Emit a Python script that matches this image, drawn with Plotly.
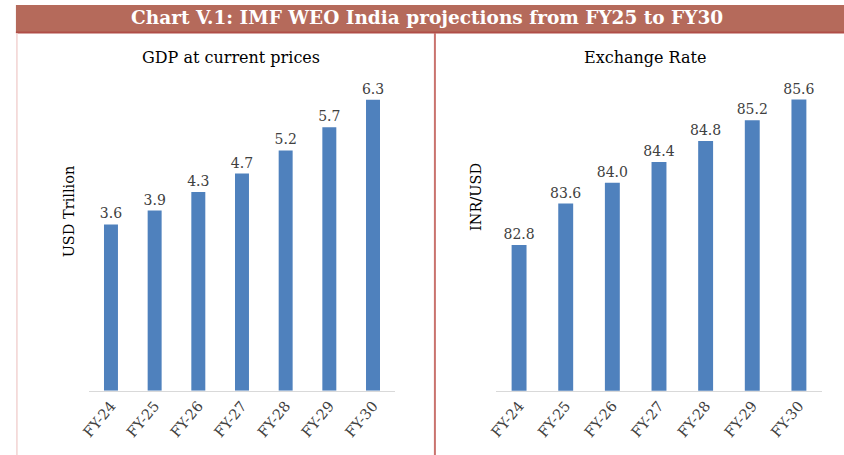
import plotly.graph_objects as go

categories = ["FY-24", "FY-25", "FY-26", "FY-27", "FY-28", "FY-29", "FY-30"]
gdp_usd_trillion = [3.6, 3.9, 4.3, 4.7, 5.2, 5.7, 6.3]
inr_per_usd = [82.8, 83.6, 84.0, 84.4, 84.8, 85.2, 85.6]

title_text = "Chart V.1: IMF WEO India projections from FY25 to FY30"
left_title = "GDP at current prices"
right_title = "Exchange Rate"
left_ytitle = "USD Trillion"
right_ytitle = "INR/USD"

W, H = 844, 455
BAR = "#4F81BD"
TXT = "#404040"
SERIF = "DejaVu Serif, Liberation Serif, serif"

fig = go.Figure()
for xa, ya, vals in (("x", "y", gdp_usd_trillion), ("x2", "y2", inr_per_usd)):
    fig.add_trace(go.Bar(
        x=categories, y=vals, xaxis=xa, yaxis=ya,
        marker=dict(color=BAR, line=dict(width=0)),
        text=[f"{v:.1f}" for v in vals], textposition="outside",
        constraintext="none",
        textfont=dict(family=SERIF, size=14, color=TXT), cliponaxis=False,
        hoverinfo="skip", showlegend=False,
    ))


def px_x(p):
    return p / W


def px_y(p):
    return 1 - p / H


y_bot = px_y(390.7)
y_top = px_y(80)
plot_h = 390.7 - 80

xcommon = dict(showgrid=False, showline=True, linecolor="#D9D9D9", linewidth=1,
               ticks="", tickangle=-50, zeroline=False,
               tickfont=dict(family=SERIF, size=14.5, color=TXT))
ycommon = dict(showgrid=False, showline=False, zeroline=False, showticklabels=False, ticks="")

fig.update_layout(
    width=W, height=H, margin=dict(l=0, r=0, t=0, b=0),
    paper_bgcolor="white", plot_bgcolor="white", bargap=0.68,
    font=dict(family=SERIF, color=TXT),
    xaxis=dict(domain=[px_x(81), px_x(390)], anchor="y", **xcommon),
    yaxis=dict(domain=[y_bot, y_top], anchor="x", range=[0, plot_h / 46.2], **ycommon),
    xaxis2=dict(domain=[px_x(492), px_x(822)], anchor="y2", **xcommon),
    yaxis2=dict(domain=[y_bot, y_top], anchor="x2", range=[80, 80 + plot_h / 52.0], **ycommon),
)

shapes = [
    dict(type="rect", xref="paper", yref="paper", x0=px_x(7), x1=1, y0=px_y(33), y1=px_y(5),
         fillcolor="#B56A5B", line=dict(width=0), layer="below"),
    dict(type="line", xref="paper", yref="paper", x0=px_x(7), x1=1, y0=px_y(32.5), y1=px_y(32.5),
         line=dict(color="#B04E48", width=2)),
    dict(type="line", xref="paper", yref="paper", x0=px_x(8), x1=px_x(8), y0=0, y1=px_y(33),
         line=dict(color="#F2D3D2", width=1.5)),
    dict(type="line", xref="paper", yref="paper", x0=px_x(430.5), x1=px_x(430.5), y0=0, y1=px_y(33),
         line=dict(color="#C9736E", width=2)),
]
fig.update_layout(shapes=shapes)

annotations = [
    dict(text=f"<b>{title_text}</b>", x=px_x(423), y=px_y(18), xref="paper", yref="paper",
         showarrow=False, xanchor="center", yanchor="middle",
         font=dict(family=SERIF, size=18.5, color="white")),
    dict(text=left_title, x=px_x(224), y=px_y(58), xref="paper", yref="paper",
         showarrow=False, xanchor="center", yanchor="middle",
         font=dict(family=SERIF, size=16, color="#000000")),
    dict(text=right_title, x=px_x(643), y=px_y(58), xref="paper", yref="paper",
         showarrow=False, xanchor="center", yanchor="middle",
         font=dict(family=SERIF, size=16, color="#000000")),
    dict(text=left_ytitle, x=px_x(61), y=px_y(211), xref="paper", yref="paper",
         showarrow=False, xanchor="center", yanchor="middle", textangle=-90,
         font=dict(family=SERIF, size=14.5, color="#000000")),
    dict(text=right_ytitle, x=px_x(472), y=px_y(197), xref="paper", yref="paper",
         showarrow=False, xanchor="center", yanchor="middle", textangle=-90,
         font=dict(family=SERIF, size=14.5, color="#000000")),
]
fig.update_layout(annotations=annotations)

fig.write_html(
    "out.html",
    config={"displayModeBar": False},
    post_script="document.body.style.margin='0';document.body.style.overflow='hidden';",
)
